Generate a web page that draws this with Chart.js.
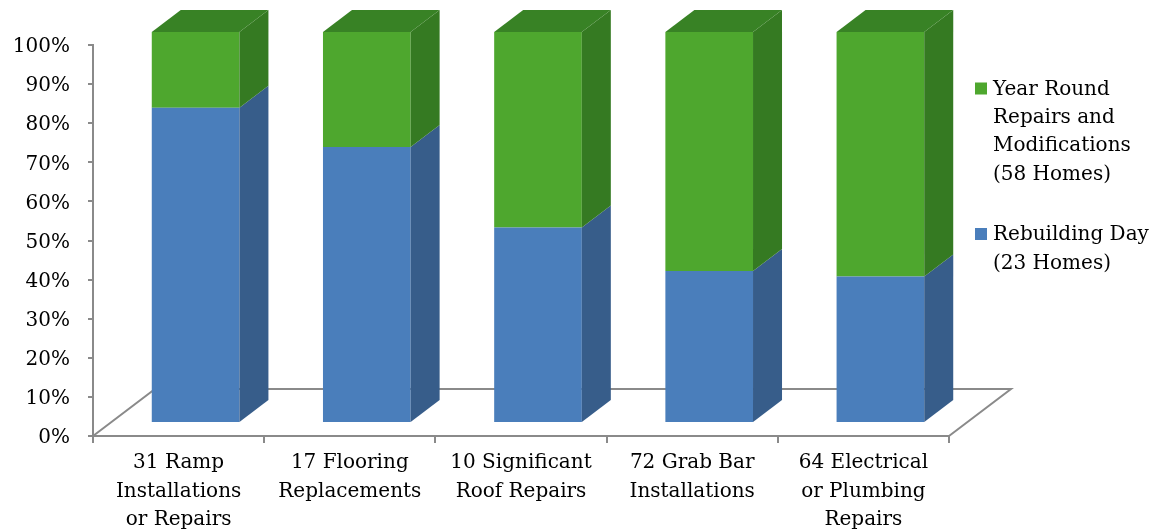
<!DOCTYPE html>
<html>
<head>
<meta charset="utf-8">
<script src="https://cdn.jsdelivr.net/npm/chart.js@4.4.1/dist/chart.umd.min.js"></script>
<style>
  html, body { margin: 0; padding: 0; background: #ffffff; }
  #wrap { width: 1166px; height: 532px; position: relative; }
</style>
</head>
<body>
<div id="wrap"><canvas id="c" width="1166" height="532"></canvas></div>
<script>
// ---- data ----
const categories = [
  ['31 Ramp', 'Installations', 'or Repairs'],
  ['17 Flooring', 'Replacements'],
  ['10 Significant', 'Roof Repairs'],
  ['72 Grab Bar', 'Installations'],
  ['64 Electrical', 'or Plumbing', 'Repairs']
];
const rebuildingDay = [80.6, 70.6, 50.0, 38.9, 37.5];
const yearRound = [19.4, 29.4, 50.0, 61.1, 62.5];
const seriesNames = [
  ['Rebuilding Day', '(23 Homes)'],
  ['Year Round', 'Repairs and', 'Modifications', '(58 Homes)']
];
const yTicks = [0, 10, 20, 30, 40, 50, 60, 70, 80, 90, 100];

// ---- styling ----
const FONT = '"DejaVu Serif", "Liberation Serif", serif';
const AXIS_COLOR = '#8a8a8a';
const FRONT = ['#4a7ebb', '#4ea72e'];
const SIDE = ['#375d8a', '#357a22'];
const TOP = ['#3f6ea6', '#388225'];
const SHIFT = { x: 17, y: -13 };     // bar plane offset from front axis plane
const DEPTH = { x: 29, y: -22 };     // bar depth
const FLOOR = { x: 62, y: -47 };     // floor depth

const floorPlugin = {
  id: 'floor',
  beforeDatasetsDraw(chart) {
    const { ctx, chartArea: a } = chart;
    ctx.save();
    ctx.strokeStyle = AXIS_COLOR;
    ctx.lineWidth = 2;
    ctx.beginPath();
    ctx.moveTo(a.left, a.bottom);
    ctx.lineTo(a.left + FLOOR.x, a.bottom + FLOOR.y);
    ctx.lineTo(a.right + FLOOR.x, a.bottom + FLOOR.y);
    ctx.lineTo(a.right, a.bottom);
    ctx.stroke();
    ctx.restore();
    ctx.save();
    ctx.translate(SHIFT.x, SHIFT.y);
  },
  afterDatasetsDraw(chart) {
    const { ctx } = chart;
    const n = chart.data.datasets.length;
    for (let d = 0; d < n; d++) {
      const meta = chart.getDatasetMeta(d);
      meta.data.forEach((el) => {
        const p = el.getProps(['x', 'y', 'base', 'width'], true);
        const left = p.x - p.width / 2;
        const right = p.x + p.width / 2;
        const top = Math.min(p.y, p.base);
        const bottom = Math.max(p.y, p.base);
        // side face
        ctx.fillStyle = SIDE[d];
        ctx.beginPath();
        ctx.moveTo(right, bottom);
        ctx.lineTo(right + DEPTH.x, bottom + DEPTH.y);
        ctx.lineTo(right + DEPTH.x, top + DEPTH.y);
        ctx.lineTo(right, top);
        ctx.closePath();
        ctx.fill();
        if (d === n - 1) {
          ctx.fillStyle = TOP[d];
          ctx.beginPath();
          ctx.moveTo(left, top);
          ctx.lineTo(left + DEPTH.x, top + DEPTH.y);
          ctx.lineTo(right + DEPTH.x, top + DEPTH.y);
          ctx.lineTo(right, top);
          ctx.closePath();
          ctx.fill();
        }
      });
    }
    ctx.restore();
  }
};

const legendPlugin = {
  id: 'customLegend',
  afterDraw(chart) {
    const { ctx } = chart;
    const items = [
      { name: seriesNames[1], color: FRONT[1], y: 88.5 },
      { name: seriesNames[0], color: FRONT[0], y: 234 }
    ];
    ctx.save();
    ctx.font = '20px ' + FONT;
    ctx.textBaseline = 'middle';
    ctx.fillStyle = '#000';
    items.forEach((it) => {
      ctx.fillStyle = it.color;
      ctx.fillRect(975, it.y - 6, 12, 12);
      ctx.fillStyle = '#000';
      it.name.forEach((line, i) => {
        ctx.fillText(line, 993, it.y + 1 + i * 28.3);
      });
    });
    ctx.restore();
  }
};

new Chart(document.getElementById('c'), {
  type: 'bar',
  data: {
    labels: categories,
    datasets: [
      { label: seriesNames[0].join(' '), data: rebuildingDay, backgroundColor: FRONT[0], clip: false },
      { label: seriesNames[1].join(' '), data: yearRound, backgroundColor: FRONT[1], clip: false }
    ]
  },
  options: {
    responsive: false,
    animation: false,
    events: [],
    layout: { padding: { top: 45, right: 217, left: 0, bottom: 0 } },
    datasets: { bar: { categoryPercentage: 1.0, barPercentage: 0.512, borderWidth: 0 } },
    plugins: { legend: { display: false }, tooltip: { enabled: false } },
    scales: {
      x: {
        stacked: true,
        afterFit(s) { s.height = 96; },
        grid: { display: true, drawOnChartArea: false, drawTicks: true, tickLength: 7, color: AXIS_COLOR, lineWidth: 2, offset: true },
        border: { display: true, color: AXIS_COLOR, width: 2 },
        ticks: { color: '#000', font: { family: FONT, size: 20, lineHeight: 1.42 }, padding: 6, maxRotation: 0, autoSkip: false }
      },
      y: {
        stacked: true,
        min: 0,
        max: 100,
        afterFit(s) { s.width = 93; },
        afterBuildTicks(s) { s.ticks = yTicks.map(v => ({ value: v })); },
        grid: { display: true, drawOnChartArea: false, drawTicks: true, tickLength: 5, color: AXIS_COLOR, lineWidth: 2 },
        border: { display: true, color: AXIS_COLOR, width: 2 },
        ticks: { color: '#000', font: { family: FONT, size: 20 }, padding: 18, labelOffset: 2, callback: v => v + '%' }
      }
    }
  },
  plugins: [floorPlugin, legendPlugin]
});
</script>
</body>
</html>
